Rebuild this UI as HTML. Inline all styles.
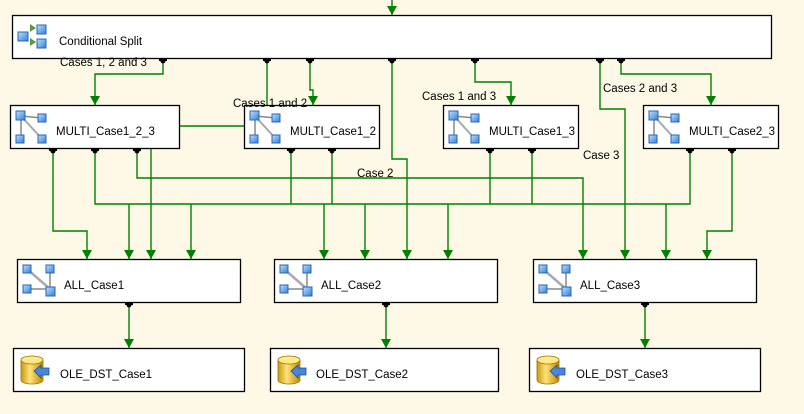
<!DOCTYPE html>
<html><head><meta charset="utf-8"><style>
html,body{margin:0;padding:0;background:#fdf9e6;}
svg{display:block;}
text{font-family:"Liberation Sans",sans-serif;font-size:11.5px;fill:#000;}
</style></head><body>
<svg width="804" height="414" viewBox="0 0 804 414" xmlns="http://www.w3.org/2000/svg">
<defs>
<linearGradient id="sq" x1="0" y1="0" x2="1" y2="1"><stop offset="0" stop-color="#bfe0ff"/><stop offset="1" stop-color="#2f7fd8"/></linearGradient>
<linearGradient id="cyl" x1="0" y1="0" x2="1" y2="0"><stop offset="0" stop-color="#c89a10"/><stop offset="0.4" stop-color="#ffe27a"/><stop offset="1" stop-color="#c08a00"/></linearGradient>
<g id="multi">
<line x1="11" y1="11" x2="32" y2="13" stroke="#888" stroke-width="1.5"/>
<line x1="11" y1="11" x2="11" y2="34" stroke="#888" stroke-width="1.5"/>
<line x1="11" y1="11" x2="32" y2="34" stroke="#aaa" stroke-width="2"/>
<rect x="6" y="6" width="9" height="9" fill="url(#sq)" stroke="#2a64b8"/>
<rect x="28" y="9" width="8" height="8" fill="url(#sq)" stroke="#2a64b8"/>
<rect x="6" y="30" width="8" height="8" fill="url(#sq)" stroke="#2a64b8"/>
<rect x="28" y="30" width="8" height="8" fill="url(#sq)" stroke="#2a64b8"/>
</g>
<g id="all">
<line x1="10" y1="10" x2="33" y2="30" stroke="#aaa" stroke-width="2.5"/>
<line x1="33" y1="10" x2="33" y2="30" stroke="#888" stroke-width="1.5"/>
<line x1="10" y1="30" x2="33" y2="30" stroke="#888" stroke-width="1.5"/>
<rect x="6" y="6" width="8" height="8" fill="url(#sq)" stroke="#2a64b8"/>
<rect x="29" y="6" width="8" height="8" fill="url(#sq)" stroke="#2a64b8"/>
<rect x="6" y="26" width="8" height="8" fill="url(#sq)" stroke="#2a64b8"/>
<rect x="29" y="28" width="9" height="9" fill="url(#sq)" stroke="#2a64b8"/>
</g>
<g id="ole">
<path d="M8 12 v20 a11 4 0 0 0 22 0 v-20" fill="url(#cyl)" stroke="#a07000" stroke-width="0.8"/>
<ellipse cx="19" cy="12" rx="11" ry="4" fill="#ffe98a" stroke="#a07000" stroke-width="0.8"/>
<path d="M21 23 l7 -6 v3 h8 v7 h-8 v3 z" fill="#4a86d8" stroke="#1d4f9e" stroke-width="0.8"/>
</g>
<g id="dot"><rect x="-4" y="0" width="8" height="3" fill="#000"/><circle cx="0" cy="3" r="2.5" fill="#000"/></g>
<path id="arr" d="M-5 -9 L5 -9 L0 0 Z" fill="#008000"/>
</defs>

<g fill="none" stroke="#008000" stroke-width="1.4">
<!-- top incoming -->
<path d="M392 0 V15"/>
<!-- split outputs -->
<path d="M163 58 V74 H95 V105"/>
<path d="M267 58 V105"/>
<path d="M180 126 H244"/>
<path d="M310 58 V90 H313 V105"/>
<path d="M392 58 V159 H407 V259"/>
<path d="M475 58 V82 H511 V105"/>
<path d="M600 58 V109 H625 V259"/>
<path d="M621 58 V74 H711 V105"/>
<!-- multi outputs -->
<path d="M53 148 V231 H87 V259"/>
<path d="M95 148 V204 H690 V148"/>
<path d="M137 148 V178 H583 V259"/>
<path d="M151 148 V259"/>
<path d="M291 148 V204"/>
<path d="M332 148 V204"/>
<path d="M490 148 V204"/>
<path d="M532 148 V204"/>
<path d="M732 148 V231 H707 V259"/>
<path d="M129 204 V259"/>
<path d="M191 204 V259"/>
<path d="M324 204 V259"/>
<path d="M365 204 V259"/>
<path d="M448 204 V259"/>
<path d="M666 204 V259"/>
<!-- all to ole -->
<path d="M129 302 V348"/>
<path d="M386 302 V348"/>
<path d="M645 302 V348"/>
</g>

<!-- arrowheads -->
<g>
<use href="#arr" x="392" y="15"/>
<use href="#arr" x="95" y="105"/>
<use href="#arr" x="313" y="105"/>
<use href="#arr" x="511" y="105"/>
<use href="#arr" x="711" y="105"/>
<use href="#arr" x="87" y="259"/><use href="#arr" x="129" y="259"/><use href="#arr" x="151" y="259"/><use href="#arr" x="191" y="259"/>
<use href="#arr" x="324" y="259"/><use href="#arr" x="365" y="259"/><use href="#arr" x="407" y="259"/><use href="#arr" x="448" y="259"/>
<use href="#arr" x="583" y="259"/><use href="#arr" x="625" y="259"/><use href="#arr" x="666" y="259"/><use href="#arr" x="707" y="259"/>
<use href="#arr" x="129" y="348"/><use href="#arr" x="386" y="348"/><use href="#arr" x="645" y="348"/>
</g>

<!-- boxes -->
<g fill="#fff" stroke="#000" stroke-width="1.3">
<rect x="12.5" y="15.5" width="759" height="43"/>
<rect x="10.5" y="105.5" width="169" height="43"/>
<rect x="244.5" y="105.5" width="135" height="43"/>
<rect x="443.5" y="105.5" width="135" height="43"/>
<rect x="643.5" y="105.5" width="135" height="43"/>
<rect x="17.5" y="259.5" width="223" height="43"/>
<rect x="274.5" y="259.5" width="223" height="43"/>
<rect x="533.5" y="259.5" width="223" height="43"/>
<rect x="13.5" y="348.5" width="231" height="43"/>
<rect x="270.5" y="348.5" width="228" height="43"/>
<rect x="529.5" y="348.5" width="231" height="43"/>
</g>

<!-- dots -->
<g>
<use href="#dot" x="163" y="58"/><use href="#dot" x="267" y="58"/><use href="#dot" x="310" y="58"/><use href="#dot" x="392" y="58"/><use href="#dot" x="475" y="58"/><use href="#dot" x="600" y="58"/><use href="#dot" x="621" y="58"/>
<use href="#dot" x="53" y="148"/><use href="#dot" x="95" y="148"/><use href="#dot" x="137" y="148"/>
<use href="#dot" x="291" y="148"/><use href="#dot" x="332" y="148"/>
<use href="#dot" x="490" y="148"/><use href="#dot" x="532" y="148"/>
<use href="#dot" x="690" y="148"/><use href="#dot" x="732" y="148"/>
<use href="#dot" x="129" y="302"/><use href="#dot" x="386" y="302"/><use href="#dot" x="645" y="302"/>
</g>

<!-- split icon -->
<g>
<rect x="18" y="32" width="10" height="9" fill="url(#sq)" stroke="#2a64b8"/>
<path d="M30 24 l6 4 l-6 4 z" fill="#5a9a3a"/>
<path d="M30 38 l6 4 l-6 4 z" fill="#5a9a3a"/>
<rect x="37" y="25" width="9" height="9" fill="url(#sq)" stroke="#2a64b8"/>
<rect x="37" y="39" width="9" height="9" fill="url(#sq)" stroke="#2a64b8"/>
</g>
<use href="#multi" x="10" y="105"/>
<use href="#multi" x="244" y="105"/>
<use href="#multi" x="443" y="105"/>
<use href="#multi" x="643" y="105"/>
<use href="#all" x="17" y="259"/>
<use href="#all" x="274" y="259"/>
<use href="#all" x="533" y="259"/>
<use href="#ole" x="13" y="348"/>
<use href="#ole" x="270" y="348"/>
<use href="#ole" x="529" y="348"/>

<!-- text -->
<text x="59" y="45">Conditional Split</text>
<text x="56" y="135">MULTI_Case1_2_3</text>
<text x="290" y="135">MULTI_Case1_2</text>
<text x="489" y="135">MULTI_Case1_3</text>
<text x="689" y="135">MULTI_Case2_3</text>
<text x="64" y="289">ALL_Case1</text>
<text x="321" y="289">ALL_Case2</text>
<text x="580" y="289">ALL_Case3</text>
<text x="60" y="378">OLE_DST_Case1</text>
<text x="316" y="378">OLE_DST_Case2</text>
<text x="576" y="378">OLE_DST_Case3</text>
<text x="60" y="66">Cases 1, 2 and 3</text>
<text x="233" y="107">Cases 1 and 2</text>
<text x="422" y="100">Cases 1 and 3</text>
<text x="603" y="92">Cases 2 and 3</text>
<text x="583" y="159">Case 3</text>
<text x="357" y="177">Case 2</text>
</svg>
</body></html>
